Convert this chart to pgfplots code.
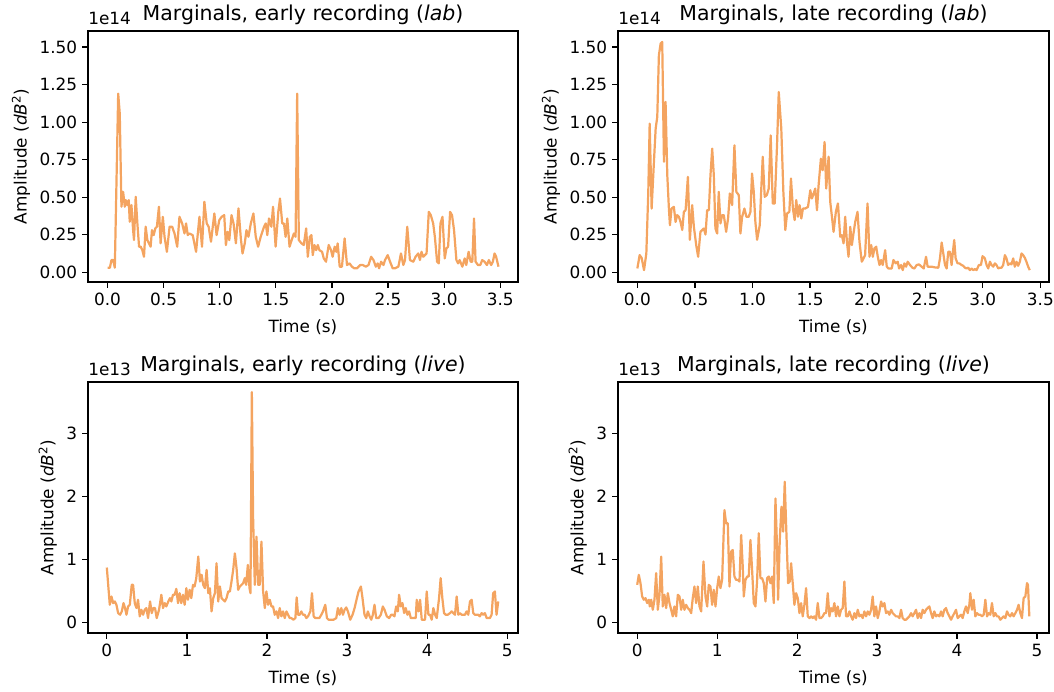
\documentclass[border=0pt]{standalone}
\usepackage{fontspec}
\setmainfont{DejaVu Sans}
\usepackage{pgfplots}
\pgfplotsset{compat=1.18}
\definecolor{sandy}{RGB}{244,164,96}

\pgfplotsset{
  mp/.style={
    scale only axis,
    axis line style={line width=0.9pt, black},
    every tick/.style={line width=0.9pt, black},
    tick align=outside,
    major tick length=4.3pt,
    xtick pos=bottom, ytick pos=left,
    scaled ticks=false,
    /pgf/number format/assume math mode=true,
    tick label style={font=\fontsize{12.2}{14}\selectfont, text=black},
    label style={font=\fontsize{12.2}{14}\selectfont, text=black},
    xlabel style={yshift=-3pt},
    title style={font=\fontsize{14.8}{17}\selectfont, text=black, yshift=-5pt},
    xlabel={Time (s)},
    ylabel={Amplitude (\textit{dB}\textsuperscript{2})},
    cycle list={sandy\\},
    every axis plot post/.append style={sandy, line width=1.6pt, line join=round, mark=none},
  },
  toprow/.style={
    mp, width=310.76pt, height=181.40pt,
    ymin=-0.064, ymax=1.607,
    ytick={0,0.25,0.5,0.75,1,1.25,1.5},
    yticklabels={0.00,0.25,0.50,0.75,1.00,1.25,1.50},
    xtick={0,0.5,1,1.5,2,2.5,3,3.5},
    xticklabels={0.0,0.5,1.0,1.5,2.0,2.5,3.0,3.5},
    extra description/.code={\node[anchor=south west, inner sep=0pt, font=\fontsize{12.2}{14}\selectfont] at (0,1.025) {1e14};},
  },
  botrow/.style={
    mp, width=310.76pt, height=181.40pt,
    ymin=-0.168, ymax=3.82,
    ytick={0,1,2,3}, yticklabels={0,1,2,3},
    xtick={0,1,2,3,4,5}, xticklabels={0,1,2,3,4,5},
    extra description/.code={\node[anchor=south west, inner sep=0pt, font=\fontsize{12.2}{14}\selectfont] at (0,1.025) {1e13};},
  },
}

\begin{document}
\begin{tikzpicture}
\useasboundingbox (0pt,0pt) rectangle (761.73pt,500.11pt);

% ---------- top left ----------
\begin{axis}[toprow, at={(63.60pt,296.31pt)}, anchor=south west,
  xmin=-0.174, xmax=3.658,
  title={Marginals, early recording (\textit{lab})}]
\addplot coordinates {
(0.000,0.031)(0.021,0.031)(0.035,0.082)(0.050,0.082)(0.065,0.031)(0.095,1.190)(0.109,1.057)(0.124,0.437)(0.139,0.536)(0.154,0.437)(0.163,0.481)(0.177,0.448)(0.189,0.481)(0.198,0.337)(0.213,0.448)(0.228,0.281)(0.236,0.215)(0.251,0.503)(0.266,0.326)(0.281,0.171)(0.296,0.171)(0.310,0.148)(0.325,0.104)(0.340,0.304)(0.355,0.215)(0.369,0.193)(0.384,0.171)(0.396,0.281)(0.411,0.248)(0.426,0.293)(0.440,0.304)(0.458,0.437)(0.473,0.193)(0.493,0.370)(0.508,0.237)(0.529,0.137)(0.553,0.304)(0.576,0.304)(0.597,0.259)(0.621,0.171)(0.641,0.370)(0.665,0.326)(0.686,0.259)(0.700,0.326)(0.715,0.248)(0.730,0.259)(0.759,0.248)(0.789,0.137)(0.819,0.370)(0.842,0.171)(0.863,0.470)(0.884,0.326)(0.901,0.304)(0.922,0.204)(0.952,0.392)(0.972,0.248)(0.996,0.348)(1.017,0.370)(1.040,0.381)(1.055,0.182)(1.070,0.270)(1.085,0.215)(1.105,0.381)(1.123,0.326)(1.144,0.193)(1.167,0.426)(1.188,0.226)(1.203,0.126)(1.223,0.193)(1.238,0.281)(1.256,0.237)(1.277,0.326)(1.300,0.392)(1.321,0.237)(1.342,0.171)(1.365,0.237)(1.395,0.304)(1.410,0.326)(1.424,0.248)(1.439,0.359)(1.460,0.304)(1.475,0.437)(1.498,0.171)(1.522,0.403)(1.537,0.492)(1.557,0.326)(1.572,0.326)(1.587,0.237)(1.602,0.359)(1.622,0.171)(1.646,0.226)(1.661,0.259)(1.676,0.237)(1.690,1.190)(1.705,0.215)(1.729,0.193)(1.749,0.182)(1.770,0.293)(1.785,0.104)(1.803,0.237)(1.817,0.248)(1.829,0.115)(1.844,0.182)(1.859,0.148)(1.874,0.182)(1.888,0.148)(1.912,0.137)(1.927,0.093)(1.947,0.071)(1.971,0.182)(1.992,0.148)(2.006,0.104)(2.024,0.171)(2.039,0.137)(2.051,0.193)(2.069,0.038)(2.089,0.038)(2.113,0.226)(2.134,0.049)(2.157,0.060)(2.178,0.038)(2.199,0.027)(2.222,0.027)(2.252,0.049)(2.275,0.049)(2.302,0.038)(2.326,0.049)(2.349,0.104)(2.370,0.082)(2.391,0.038)(2.408,0.060)(2.420,0.027)(2.438,0.071)(2.459,0.049)(2.473,0.082)(2.497,0.115)(2.518,0.071)(2.541,0.027)(2.562,0.027)(2.592,0.038)(2.615,0.126)(2.636,0.049)(2.651,0.082)(2.671,0.304)(2.695,0.082)(2.725,0.071)(2.745,0.104)(2.769,0.126)(2.784,0.082)(2.798,0.137)(2.813,0.104)(2.828,0.115)(2.843,0.126)(2.863,0.403)(2.881,0.381)(2.902,0.326)(2.917,0.237)(2.937,0.071)(2.952,0.060)(2.967,0.326)(2.985,0.370)(3.005,0.093)(3.020,0.159)(3.035,0.171)(3.053,0.403)(3.070,0.381)(3.088,0.281)(3.109,0.082)(3.124,0.060)(3.138,0.082)(3.162,0.038)(3.183,0.093)(3.197,0.049)(3.218,0.137)(3.236,0.071)(3.251,0.071)(3.266,0.359)(3.280,0.071)(3.301,0.049)(3.322,0.049)(3.339,0.082)(3.360,0.071)(3.381,0.049)(3.398,0.082)(3.419,0.049)(3.434,0.071)(3.449,0.126)(3.463,0.104)(3.484,0.038)
};
\end{axis}

% ---------- top right ----------
\begin{axis}[toprow, at={(446.63pt,296.31pt)}, anchor=south west, width=311.48pt,
  xmin=-0.168, xmax=3.575,
  title={Marginals, late recording (\textit{lab})}]
\addplot coordinates {
(0.000,0.026)(0.020,0.115)(0.037,0.097)(0.058,0.015)(0.078,0.126)(0.095,0.536)(0.107,0.990)(0.124,0.425)(0.144,0.736)(0.159,0.957)(0.173,1.035)(0.187,1.445)(0.202,1.523)(0.216,1.534)(0.231,0.736)(0.245,1.135)(0.260,0.647)(0.274,0.425)(0.283,0.314)(0.297,0.425)(0.317,0.436)(0.332,0.336)(0.346,0.381)(0.361,0.370)(0.375,0.336)(0.390,0.282)(0.404,0.403)(0.419,0.414)(0.439,0.636)(0.456,0.217)(0.476,0.448)(0.491,0.303)(0.511,0.182)(0.528,0.104)(0.548,0.270)(0.563,0.282)(0.577,0.292)(0.592,0.252)(0.606,0.414)(0.621,0.414)(0.635,0.647)(0.650,0.824)(0.664,0.647)(0.678,0.292)(0.693,0.259)(0.707,0.536)(0.722,0.326)(0.736,0.381)(0.751,0.381)(0.771,0.270)(0.788,0.359)(0.803,0.525)(0.823,0.448)(0.843,0.846)(0.860,0.536)(0.881,0.514)(0.895,0.259)(0.910,0.370)(0.930,0.425)(0.947,0.370)(0.967,0.370)(0.982,0.403)(0.996,0.658)(1.011,0.536)(1.025,0.336)(1.040,0.217)(1.063,0.314)(1.075,0.536)(1.089,0.770)(1.106,0.503)(1.124,0.514)(1.141,0.558)(1.158,0.912)(1.176,0.459)(1.193,0.459)(1.213,0.846)(1.228,1.201)(1.250,0.957)(1.268,0.536)(1.285,0.282)(1.300,0.392)(1.320,0.403)(1.334,0.625)(1.351,0.425)(1.366,0.348)(1.380,0.481)(1.395,0.370)(1.409,0.448)(1.424,0.359)(1.438,0.425)(1.458,0.425)(1.482,0.436)(1.502,0.547)(1.516,0.492)(1.531,0.525)(1.545,0.558)(1.560,0.414)(1.574,0.580)(1.594,0.757)(1.609,0.680)(1.626,0.868)(1.640,0.558)(1.661,0.770)(1.675,0.470)(1.690,0.370)(1.704,0.270)(1.724,0.403)(1.742,0.459)(1.762,0.237)(1.776,0.248)(1.791,0.193)(1.805,0.370)(1.820,0.204)(1.834,0.104)(1.849,0.303)(1.863,0.182)(1.877,0.259)(1.892,0.336)(1.912,0.403)(1.929,0.204)(1.949,0.071)(1.964,0.093)(1.978,0.115)(1.999,0.459)(2.016,0.104)(2.031,0.182)(2.045,0.104)(2.059,0.160)(2.074,0.171)(2.088,0.104)(2.103,0.049)(2.117,0.082)(2.131,0.049)(2.152,0.148)(2.166,0.038)(2.181,0.026)(2.195,0.026)(2.209,0.026)(2.224,0.082)(2.244,0.060)(2.261,0.071)(2.273,0.026)(2.290,0.049)(2.305,0.015)(2.319,0.060)(2.334,0.038)(2.348,0.071)(2.368,0.049)(2.389,0.031)(2.406,0.026)(2.426,0.049)(2.446,0.053)(2.469,0.038)(2.487,0.026)(2.507,0.104)(2.521,0.038)(2.536,0.038)(2.556,0.038)(2.585,0.033)(2.614,0.031)(2.628,0.093)(2.643,0.199)(2.657,0.126)(2.672,0.049)(2.686,0.026)(2.700,0.137)(2.715,0.137)(2.729,0.049)(2.744,0.160)(2.752,0.215)(2.764,0.093)(2.781,0.060)(2.796,0.060)(2.816,0.049)(2.830,0.044)(2.845,0.031)(2.859,0.026)(2.874,0.031)(2.888,0.015)(2.903,0.026)(2.917,0.015)(2.932,0.022)(2.946,0.015)(2.966,0.049)(2.984,0.049)(2.998,0.108)(3.018,0.093)(3.033,0.049)(3.047,0.026)(3.062,0.071)(3.076,0.049)(3.091,0.038)(3.105,0.060)(3.119,0.049)(3.134,0.026)(3.148,0.031)(3.163,0.031)(3.177,0.049)(3.192,0.115)(3.206,0.093)(3.220,0.049)(3.235,0.060)(3.249,0.053)(3.264,0.093)(3.278,0.038)(3.293,0.071)(3.307,0.044)(3.322,0.071)(3.336,0.126)(3.350,0.115)(3.365,0.097)(3.379,0.071)(3.394,0.038)(3.408,0.015)
};
\end{axis}

% ---------- bottom left ----------
\begin{axis}[botrow, at={(63.60pt,42.64pt)}, anchor=south west,
  xmin=-0.235, xmax=5.135,
  title={Marginals, early recording (\textit{live})}]
\addplot coordinates {
(0.000,0.872)(0.037,0.280)(0.058,0.412)(0.079,0.307)(0.100,0.333)(0.120,0.280)(0.141,0.148)(0.166,0.122)(0.187,0.175)(0.208,0.307)(0.228,0.228)(0.245,0.122)(0.266,0.254)(0.287,0.280)(0.311,0.597)(0.328,0.597)(0.349,0.307)(0.370,0.228)(0.390,0.360)(0.411,0.096)(0.432,0.201)(0.453,0.122)(0.473,0.201)(0.494,0.228)(0.515,0.069)(0.540,0.333)(0.561,0.148)(0.581,0.228)(0.602,0.228)(0.623,0.069)(0.652,0.201)(0.681,0.439)(0.702,0.228)(0.723,0.307)(0.743,0.254)(0.768,0.333)(0.789,0.386)(0.806,0.333)(0.826,0.439)(0.847,0.439)(0.868,0.534)(0.889,0.307)(0.909,0.465)(0.930,0.307)(0.951,0.439)(0.972,0.280)(0.993,0.544)(1.013,0.360)(1.034,0.518)(1.055,0.386)(1.076,0.597)(1.096,0.571)(1.117,0.703)(1.142,1.046)(1.163,0.650)(1.184,0.756)(1.204,0.597)(1.225,0.544)(1.246,0.835)(1.267,0.465)(1.287,0.544)(1.308,0.175)(1.329,0.386)(1.350,0.465)(1.370,0.941)(1.391,0.333)(1.412,0.571)(1.433,0.386)(1.453,0.360)(1.474,0.333)(1.495,0.386)(1.516,0.492)(1.537,0.492)(1.557,0.650)(1.578,0.835)(1.599,1.098)(1.620,0.861)(1.640,0.518)(1.661,0.571)(1.682,0.597)(1.703,0.624)(1.723,0.703)(1.740,0.597)(1.761,0.914)(1.782,0.544)(1.794,0.465)(1.811,3.660)(1.827,1.653)(1.848,0.597)(1.869,1.363)(1.890,0.597)(1.910,0.597)(1.931,1.284)(1.952,0.492)(1.973,0.228)(1.993,0.492)(2.014,0.280)(2.035,0.360)(2.056,0.254)(2.076,0.254)(2.097,0.122)(2.118,0.175)(2.139,0.069)(2.159,0.228)(2.180,0.096)(2.201,0.175)(2.222,0.069)(2.243,0.175)(2.263,0.122)(2.284,0.069)(2.305,0.069)(2.330,0.043)(2.355,0.069)(2.371,0.397)(2.388,0.122)(2.409,0.122)(2.429,0.175)(2.450,0.122)(2.471,0.122)(2.492,0.069)(2.512,0.096)(2.542,0.175)(2.562,0.465)(2.583,0.096)(2.604,0.069)(2.625,0.069)(2.654,0.069)(2.679,0.122)(2.699,0.175)(2.728,0.280)(2.749,0.069)(2.770,0.043)(2.803,0.043)(2.832,0.043)(2.865,0.069)(2.886,0.228)(2.907,0.122)(2.928,0.228)(2.949,0.122)(2.969,0.201)(2.990,0.238)(3.011,0.175)(3.040,0.043)(3.069,0.122)(3.094,0.228)(3.123,0.386)(3.144,0.492)(3.173,0.571)(3.193,0.386)(3.218,0.122)(3.239,0.069)(3.260,0.175)(3.281,0.096)(3.302,0.043)(3.322,0.122)(3.343,0.280)(3.364,0.069)(3.393,0.069)(3.422,0.122)(3.447,0.254)(3.468,0.201)(3.497,0.096)(3.526,0.069)(3.551,0.122)(3.571,0.122)(3.592,0.096)(3.613,0.254)(3.634,0.175)(3.650,0.439)(3.671,0.254)(3.692,0.307)(3.713,0.148)(3.733,0.228)(3.754,0.122)(3.775,0.175)(3.796,0.069)(3.829,0.069)(3.858,0.069)(3.870,0.360)(3.891,0.175)(3.912,0.360)(3.933,0.043)(3.953,0.043)(3.974,0.043)(3.995,0.492)(4.016,0.122)(4.037,0.122)(4.057,0.043)(4.078,0.228)(4.099,0.122)(4.120,0.069)(4.149,0.386)(4.169,0.703)(4.190,0.386)(4.211,0.148)(4.232,0.122)(4.257,0.122)(4.286,0.148)(4.306,0.175)(4.327,0.148)(4.348,0.122)(4.369,0.412)(4.390,0.122)(4.410,0.148)(4.431,0.122)(4.452,0.122)(4.473,0.122)(4.493,0.175)(4.514,0.122)(4.535,0.333)(4.556,0.360)(4.576,0.148)(4.597,0.122)(4.618,0.122)(4.639,0.122)(4.659,0.096)(4.680,0.148)(4.701,0.122)(4.722,0.148)(4.743,0.069)(4.763,0.069)(4.784,0.069)(4.805,0.122)(4.825,0.465)(4.846,0.492)(4.867,0.122)(4.888,0.333)
};
\end{axis}

% ---------- bottom right ----------
\begin{axis}[botrow, at={(446.63pt,42.64pt)}, anchor=south west, width=311.48pt,
  xmin=-0.24, xmax=5.15,
  title={Marginals, late recording (\textit{live})}]
\addplot coordinates {
(0.000,0.597)(0.020,0.756)(0.041,0.624)(0.062,0.412)(0.083,0.360)(0.104,0.386)(0.125,0.307)(0.145,0.360)(0.158,0.254)(0.175,0.360)(0.195,0.201)(0.216,0.360)(0.237,0.782)(0.258,0.201)(0.279,0.439)(0.300,1.046)(0.320,0.254)(0.341,0.439)(0.362,0.228)(0.383,0.465)(0.404,0.307)(0.425,0.201)(0.445,0.096)(0.466,0.254)(0.487,0.096)(0.508,0.439)(0.529,0.412)(0.550,0.201)(0.570,0.360)(0.591,0.201)(0.612,0.280)(0.633,0.228)(0.654,0.201)(0.675,0.148)(0.695,0.386)(0.716,0.571)(0.737,0.307)(0.758,0.571)(0.779,0.254)(0.800,0.175)(0.829,0.967)(0.854,0.412)(0.875,0.254)(0.895,0.597)(0.916,0.571)(0.937,0.280)(0.958,0.518)(0.979,0.254)(1.000,0.545)(1.020,0.729)(1.041,0.545)(1.062,0.676)(1.091,1.785)(1.112,1.574)(1.133,1.574)(1.154,0.571)(1.175,1.125)(1.195,1.151)(1.216,0.729)(1.237,0.676)(1.258,0.676)(1.279,0.650)(1.300,1.389)(1.320,0.887)(1.333,0.412)(1.354,0.676)(1.375,0.729)(1.395,0.729)(1.416,1.310)(1.437,0.835)(1.458,0.307)(1.479,0.254)(1.500,0.676)(1.520,1.416)(1.541,0.703)(1.562,0.703)(1.583,0.624)(1.604,0.333)(1.625,0.703)(1.645,0.729)(1.666,0.624)(1.687,0.729)(1.708,0.307)(1.729,1.970)(1.750,1.151)(1.762,0.360)(1.783,1.310)(1.804,1.838)(1.825,1.442)(1.845,2.234)(1.866,1.416)(1.887,0.624)(1.908,0.650)(1.925,0.940)(1.945,0.624)(1.966,0.280)(1.987,0.465)(2.008,0.386)(2.029,0.148)(2.050,0.307)(2.070,0.096)(2.091,0.280)(2.112,0.545)(2.133,0.096)(2.154,0.069)(2.175,0.096)(2.195,0.069)(2.216,0.096)(2.237,0.043)(2.258,0.307)(2.279,0.069)(2.300,0.069)(2.320,0.096)(2.341,0.148)(2.362,0.148)(2.383,0.465)(2.404,0.096)(2.425,0.228)(2.445,0.175)(2.466,0.307)(2.487,0.096)(2.508,0.254)(2.529,0.096)(2.550,0.201)(2.570,0.228)(2.591,0.650)(2.612,0.096)(2.633,0.096)(2.654,0.175)(2.675,0.096)(2.695,0.043)(2.716,0.148)(2.737,0.069)(2.758,0.201)(2.779,0.096)(2.800,0.122)(2.820,0.069)(2.841,0.175)(2.862,0.096)(2.883,0.175)(2.904,0.122)(2.925,0.201)(2.945,0.412)(2.966,0.096)(2.987,0.254)(3.008,0.069)(3.029,0.175)(3.050,0.333)(3.070,0.254)(3.091,0.307)(3.112,0.148)(3.133,0.175)(3.154,0.122)(3.175,0.201)(3.195,0.148)(3.216,0.122)(3.237,0.096)(3.258,0.096)(3.279,0.069)(3.300,0.201)(3.320,0.069)(3.341,0.043)(3.362,0.043)(3.383,0.069)(3.404,0.096)(3.425,0.148)(3.445,0.096)(3.466,0.148)(3.487,0.201)(3.508,0.069)(3.529,0.148)(3.550,0.069)(3.570,0.201)(3.591,0.148)(3.612,0.201)(3.633,0.228)(3.654,0.254)(3.675,0.148)(3.695,0.069)(3.716,0.175)(3.737,0.096)(3.758,0.122)(3.779,0.096)(3.800,0.175)(3.820,0.096)(3.841,0.201)(3.862,0.228)(3.883,0.148)(3.904,0.096)(3.925,0.043)(3.945,0.096)(3.966,0.148)(3.987,0.201)(4.008,0.069)(4.029,0.096)(4.050,0.122)(4.070,0.069)(4.091,0.175)(4.112,0.254)(4.133,0.148)(4.154,0.280)(4.166,0.465)(4.187,0.201)(4.208,0.360)(4.229,0.096)(4.250,0.148)(4.270,0.122)(4.291,0.122)(4.312,0.096)(4.333,0.122)(4.354,0.360)(4.375,0.096)(4.395,0.148)(4.416,0.122)(4.437,0.307)(4.458,0.096)(4.479,0.148)(4.500,0.096)(4.520,0.096)(4.541,0.043)(4.562,0.069)(4.583,0.096)(4.604,0.069)(4.625,0.175)(4.645,0.122)(4.666,0.096)(4.687,0.148)(4.708,0.096)(4.729,0.148)(4.750,0.201)(4.770,0.280)(4.791,0.148)(4.812,0.069)(4.833,0.386)(4.854,0.412)(4.875,0.624)(4.887,0.597)(4.904,0.096)
};
\end{axis}
\end{tikzpicture}
\end{document}
